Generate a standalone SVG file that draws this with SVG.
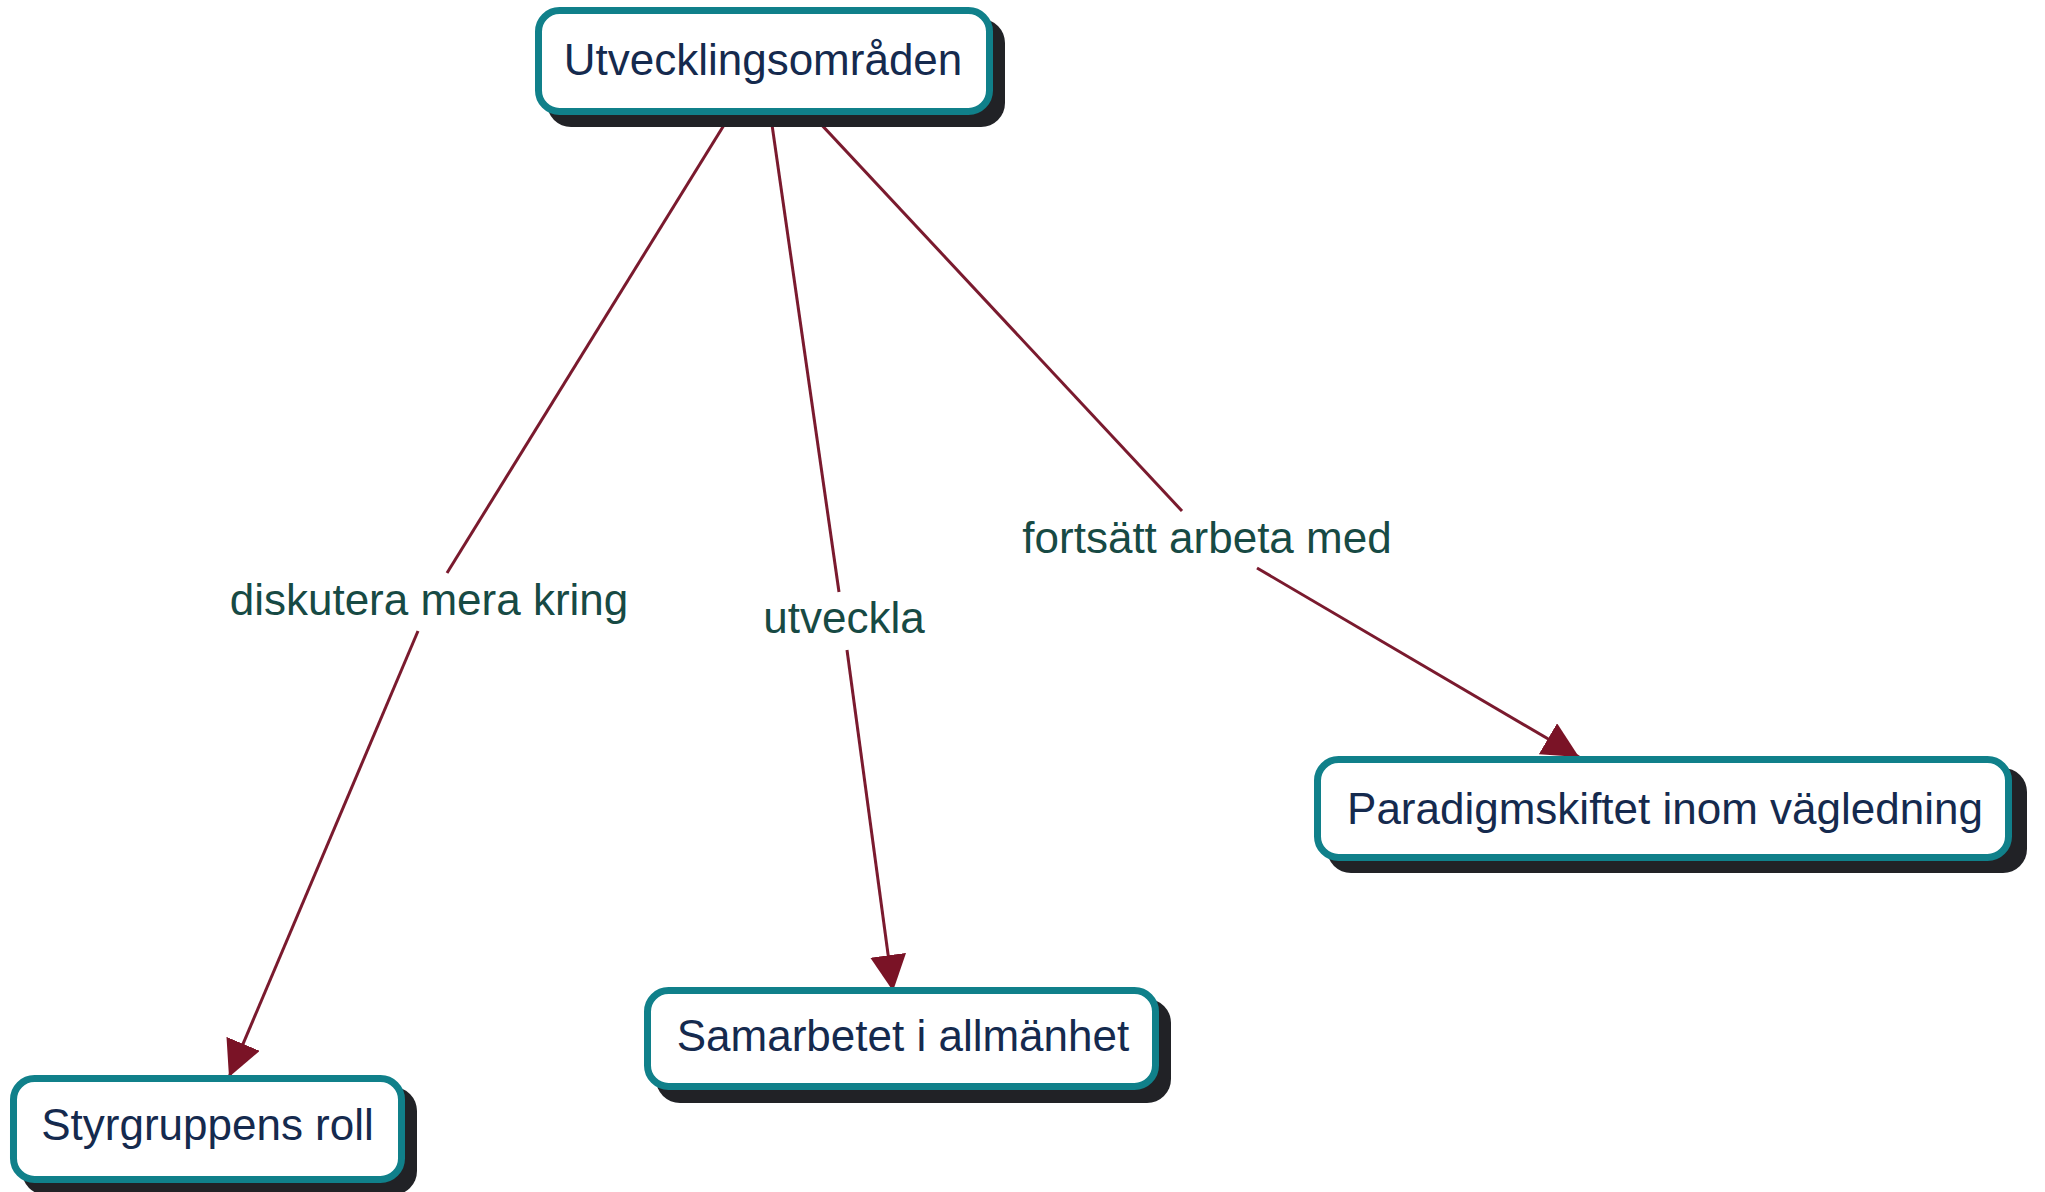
<svg xmlns="http://www.w3.org/2000/svg" width="2045" height="1192" viewBox="0 0 2045 1192">
  <style>
    .shadow { fill: #212226; }
    .box { fill: #ffffff; stroke: #10808a; stroke-width: 7; }
    .ntext { font-family: "Liberation Sans", Arial, sans-serif; font-size: 44px; fill: #152a4e; text-anchor: middle; }
    .ltext { font-family: "Liberation Sans", Arial, sans-serif; font-size: 44px; fill: #174a44; text-anchor: middle; }
    .edge { stroke: #7a1a2e; stroke-width: 3; fill: none; }
  </style>
  <defs>
    <marker id="arrow" markerUnits="userSpaceOnUse" markerWidth="36" markerHeight="36" refX="36" refY="18" orient="auto">
      <path d="M0,0 L36,18 L0,36 z" fill="#7a1326"/>
    </marker>
  </defs>
  <rect width="2045" height="1192" fill="#ffffff"/>

  <g id="connectors">
    <line class="edge" x1="763" y1="62" x2="447" y2="573"/>
    <line class="edge" x1="418" y1="631" x2="229" y2="1077" marker-end="url(#arrow)"/>
    <line class="edge" x1="763" y1="62" x2="839" y2="592"/>
    <line class="edge" x1="847" y1="650" x2="893" y2="991" marker-end="url(#arrow)"/>
    <line class="edge" x1="763" y1="62" x2="1182" y2="511"/>
    <line class="edge" x1="1257" y1="568" x2="1579" y2="757" marker-end="url(#arrow)"/>
  </g>

  <g id="labels">
    <text class="ltext" x="429" y="615">diskutera mera kring</text>
    <text class="ltext" x="844" y="633">utveckla</text>
    <text class="ltext" x="1207" y="553">fortsätt arbeta med</text>
  </g>

  <g id="node-utvecklingsomraden">
    <rect class="shadow" x="547" y="19" width="458" height="108" rx="24"/>
    <rect class="box" x="538.5" y="10.5" width="451" height="101" rx="21"/>
    <text class="ntext" x="763" y="75">Utvecklingsområden</text>
  </g>

  <g id="node-styrgruppens">
    <rect class="shadow" x="22" y="1087" width="395" height="108" rx="24"/>
    <rect class="box" x="13.5" y="1078.5" width="388" height="101" rx="21"/>
    <text class="ntext" x="207.5" y="1140">Styrgruppens roll</text>
  </g>

  <g id="node-samarbetet">
    <rect class="shadow" x="656" y="999" width="515" height="104" rx="24"/>
    <rect class="box" x="647.5" y="990.5" width="508" height="96" rx="21"/>
    <text class="ntext" x="903" y="1051">Samarbetet i allmänhet</text>
  </g>

  <g id="node-paradigmskiftet">
    <rect class="shadow" x="1327" y="768" width="700" height="105" rx="24"/>
    <rect class="box" x="1317.5" y="759.5" width="691" height="98" rx="21"/>
    <text class="ntext" x="1665" y="824">Paradigmskiftet inom vägledning</text>
  </g>
</svg>
